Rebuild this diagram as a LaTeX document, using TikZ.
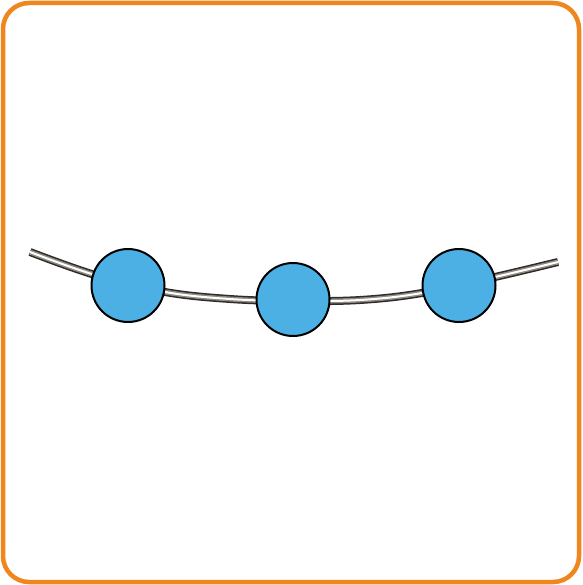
\documentclass[tikz,border=0pt]{standalone}
\begin{document}
\begin{tikzpicture}[x=1pt,y=-1pt,
  bead/.style={circle,draw=black,line width=2pt,fill=beadblue,minimum size=73pt,inner sep=0pt},
  frame/.style={draw=frameorange,line width=4.5pt,rounded corners=26pt}]
\definecolor{beadblue}{HTML}{4DB0E4}
\definecolor{frameorange}{HTML}{F0861E}
\definecolor{wiredark}{HTML}{2E2B28}
\definecolor{wiremid}{HTML}{8E8A82}
\useasboundingbox (0,0) rectangle (582,585);
\draw[frame] (3,3) rectangle (579,582);
\def\wirepath{plot[smooth,tension=0.6] coordinates {(30,252) (95,275) (165,292) (230,299) (293,301) (360,300) (422,293) (495,277) (558,262)}}
\draw[wiredark,line width=8pt] \wirepath;
\draw[wiremid,line width=5pt] \wirepath;
\draw[white,line width=2pt] \wirepath;
\node[bead] (b1) at (128,285.5) {};
\node[bead] (b2) at (293,299.5) {};
\node[bead] (b3) at (459,285.5) {};
\end{tikzpicture}
\end{document}
